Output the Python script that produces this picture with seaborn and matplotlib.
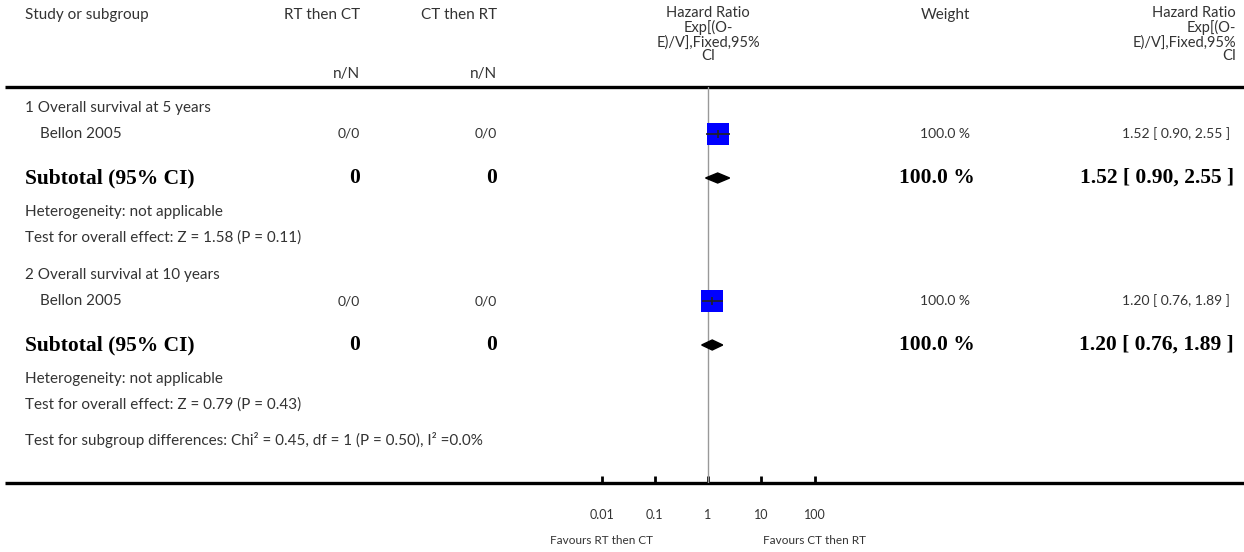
import numpy as np
import pandas as pd
import matplotlib
matplotlib.use('Agg')
import matplotlib.pyplot as plt
import seaborn as sns
from matplotlib.patches import Polygon

# %% data

group_titles = ['1 Overall survival at 5 years', '2 Overall survival at 10 years']
study_names = ['Bellon 2005', 'Bellon 2005']
rt_then_ct = ['0/0', '0/0']
ct_then_rt = ['0/0', '0/0']
subtotal_rt = [0, 0]
subtotal_ct = [0, 0]
weights = [100.0, 100.0]
hr = [1.52, 1.20]
ci_low = [0.90, 0.76]
ci_high = [2.55, 1.89]
heterogeneity = ['not applicable', 'not applicable']
z_values = [1.58, 0.79]
p_values = [0.11, 0.43]
chi2, chi_df, chi_p, i2 = 0.45, 1, 0.50, 0.0
tick_values = [0.01, 0.1, 1, 10, 100]
tick_labels = ['0.01', '0.1', '1', '10', '100']
favours = ['Favours RT then CT', 'Favours CT then RT']
hr_header = ['Hazard Ratio', 'Exp[(O-', 'E)/V],Fixed,95%', 'CI']

# %% layout (pixel rows)

W, H = 1244, 552
group_top = [108, 275]
off_study, off_sub, off_het, off_test = 26, 70, 104, 130
y_diff = 440
top_line, bottom_line = 87, 483
x_one, px_decade = 708, 53.25

sns.set_theme(style='white')
plt.rcParams['font.family'] = ['Lato', 'DejaVu Sans']

TXT = '#333333'
FS = 11          # words
NFS = 10         # numeric cells
BFS = 15.5
serif = dict(family='Liberation Serif', weight='bold', fontsize=BFS, color='black')

fig = plt.figure(figsize=(W / 100, H / 100), dpi=100)
ax = fig.add_axes([0, 0, 1, 1])
ax.set_xlim(0, W)
ax.set_ylim(H, 0)
ax.axis('off')


def txt(x, y, s, ha='left', **kw):
    kw.setdefault('fontsize', FS)
    kw.setdefault('color', TXT)
    ax.text(x, y, s, ha=ha, va='center', **kw)


# header
txt(25, 15, 'Study or subgroup')
txt(360, 15, 'RT then CT', ha='right')
txt(497, 15, 'CT then RT', ha='right')
txt(360, 74, 'n/N', ha='right')
txt(497, 74, 'n/N', ha='right')
txt(970, 15, 'Weight', ha='right')
ax.text(x_one, 6, '\n'.join(hr_header), ha='center', va='top', multialignment='center',
        linespacing=1.0, fontsize=10.5, color=TXT)
ax.text(1236, 6, '\n'.join(hr_header), ha='right', va='top', multialignment='right',
        linespacing=1.0, fontsize=10.5, color=TXT)

ax.hlines(top_line, 5, W, color='black', lw=2.4)
ax.hlines(bottom_line, 5, W, color='black', lw=2.4)

# body text
for g in range(2):
    y0 = group_top[g]
    txt(25, y0, group_titles[g])
    txt(40, y0 + off_study, study_names[g])
    txt(360, y0 + off_study, rt_then_ct[g], ha='right', fontsize=NFS)
    txt(497, y0 + off_study, ct_then_rt[g], ha='right', fontsize=NFS)
    txt(970, y0 + off_study, f'{weights[g]:.1f} %', ha='right', fontsize=NFS)
    txt(1230, y0 + off_study, f'{hr[g]:.2f} [ {ci_low[g]:.2f}, {ci_high[g]:.2f} ]',
        ha='right', fontsize=NFS)
    ax.text(25, y0 + off_sub, 'Subtotal (95% CI)', ha='left', va='center', **serif)
    ax.text(360, y0 + off_sub, str(subtotal_rt[g]), ha='right', va='center', **serif)
    ax.text(497, y0 + off_sub, str(subtotal_ct[g]), ha='right', va='center', **serif)
    ax.text(975, y0 + off_sub, f'{weights[g]:.1f} %', ha='right', va='center', **serif)
    ax.text(1234, y0 + off_sub, f'{hr[g]:.2f} [ {ci_low[g]:.2f}, {ci_high[g]:.2f} ]',
            ha='right', va='center', **serif)
    txt(25, y0 + off_het, f'Heterogeneity: {heterogeneity[g]}')
    txt(25, y0 + off_test, f'Test for overall effect: Z = {z_values[g]:.2f} (P = {p_values[g]:.2f})')

txt(25, y_diff, f'Test for subgroup differences: Chi² = {chi2:.2f}, df = {chi_df} '
                f'(P = {chi_p:.2f}), I² ={i2:.1f}%')

# forest axes
left_px, right_px = 560, 860
fax = fig.add_axes([left_px / W, (H - bottom_line) / H, (right_px - left_px) / W,
                    (bottom_line - top_line) / H])
fax.set_facecolor('none')
fax.set_xscale('log')
fax.set_xlim(10 ** ((left_px - x_one) / px_decade), 10 ** ((right_px - x_one) / px_decade))
fax.set_ylim(bottom_line, top_line)
for s in fax.spines.values():
    s.set_visible(False)
fax.set_yticks([])
fax.set_xticks(tick_values)
fax.set_xticklabels(tick_labels)
fax.xaxis.set_minor_locator(matplotlib.ticker.NullLocator())
fax.tick_params(axis='x', direction='in', length=5, width=2, color='black',
                pad=19, labelsize=9, labelcolor=TXT, bottom=True)
fax.axvline(1, color='#999999', lw=1, zorder=1)

df = pd.DataFrame({'hr': hr, 'lo': ci_low, 'hi': ci_high,
                   'y': [t + off_study for t in group_top]})
sns.scatterplot(data=df, x='hr', y='y', marker='s', s=250, color='#0000ff',
                linewidth=0, ax=fax, zorder=3, legend=False)
fax.hlines(df['y'], df['lo'], df['hi'], color='#222222', lw=1.2, zorder=4)
sns.scatterplot(data=df, x='hr', y='y', marker='|', s=30, color='#222222',
                linewidth=1.2, ax=fax, zorder=4, legend=False)
for g in range(2):
    yc = group_top[g] + off_sub
    fax.add_patch(Polygon([(ci_low[g], yc), (hr[g], yc - 5), (ci_high[g], yc), (hr[g], yc + 5)],
                          closed=True, color='black', zorder=3))
fax.set_xlabel('')
fax.set_ylabel('')

for xv, lab in zip([0.01, 100], favours):
    ax.text(x_one + np.log10(xv) * px_decade, 541, lab, ha='center', va='center',
            fontsize=8.5, color=TXT)

fig.savefig('out.png', dpi=100)
